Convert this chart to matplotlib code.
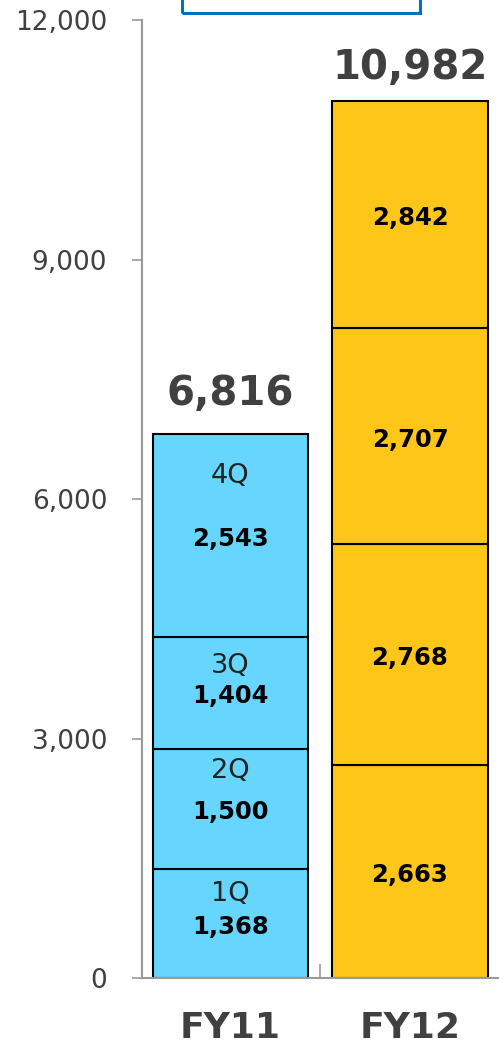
import matplotlib
matplotlib.use("Agg")
import matplotlib.pyplot as plt
from matplotlib.patches import Rectangle
from matplotlib.ticker import FuncFormatter

# data
years = ["FY11", "FY12"]
quarters = ["1Q", "2Q", "3Q", "4Q"]
fy11 = [1368, 1500, 1404, 2543]
fy12 = [2663, 2768, 2707, 2842]
totals = [6816, 10982]
bar_colors = ["#66D6FF", "#FFC61A"]

# offset (points) of the quarter name above the value, FY11 only
q_offsets = [24, 30, 22, 45]
tot_offsets = [29, 24]

fig = plt.figure(figsize=(4.99, 10.46), dpi=100)
ax = fig.add_axes([142 / 499, 68 / 1046, 357 / 499, 958 / 1046])

gray = "#999999"
txt = "#404040"

for i, vals in enumerate([fy11, fy12]):
    bottom = 0
    for j, v in enumerate(vals):
        ax.bar(i, v, bottom=bottom, width=0.864, color=bar_colors[i],
               edgecolor="black", linewidth=1.5, zorder=2)
        mid = bottom + v / 2
        ax.annotate(f"{v:,}", (i, mid), xytext=(0, -2.5),
                    textcoords="offset points", ha="center", va="center",
                    fontsize=17.5, fontweight="bold", color="black", zorder=3)
        if i == 0:
            ax.annotate(quarters[j], (i, mid), xytext=(0, q_offsets[j] - 2.5),
                        textcoords="offset points", ha="center", va="center",
                        fontsize=19.5, color="#222222", zorder=3)
        bottom += v
    ax.annotate(f"{totals[i]:,}", (i, bottom), xytext=(0, tot_offsets[i]),
                textcoords="offset points", ha="center", va="center",
                fontsize=29, fontweight="bold", color=txt)

ax.set_xlim(-0.493, 1.496)
ax.set_ylim(0, 12000)
ax.set_yticks([0, 3000, 6000, 9000, 12000])
ax.yaxis.set_major_formatter(FuncFormatter(lambda v, p: f"{int(v):,}"))
ax.tick_params(axis="y", direction="out", length=7, width=1.2, color=gray,
               labelsize=19, labelcolor=txt, pad=18)

ax.set_xticks([0, 1])
ax.set_xticklabels(years)
ax.tick_params(axis="x", length=0, pad=24, labelsize=26, labelcolor=txt)
for lab in ax.get_xticklabels():
    lab.set_fontweight("bold")
ax.set_xticks([0.5], minor=True)
ax.tick_params(axis="x", which="minor", direction="in", length=10, width=1.2, color=gray)

for s in ["top", "right"]:
    ax.spines[s].set_visible(False)
ax.spines["left"].set_color(gray)
ax.spines["left"].set_linewidth(1.5)
ax.spines["bottom"].set_color(gray)
ax.spines["bottom"].set_linewidth(1.5)
ax.spines["bottom"].set_zorder(4)

# box cut off at the top of the picture
fig.patches.append(Rectangle((182 / 499, 1033 / 1046), 238 / 499, 40 / 1046,
                             transform=fig.transFigure, fill=False,
                             edgecolor="#0070C0", linewidth=2.2))

fig.savefig("out.png", dpi=100)
